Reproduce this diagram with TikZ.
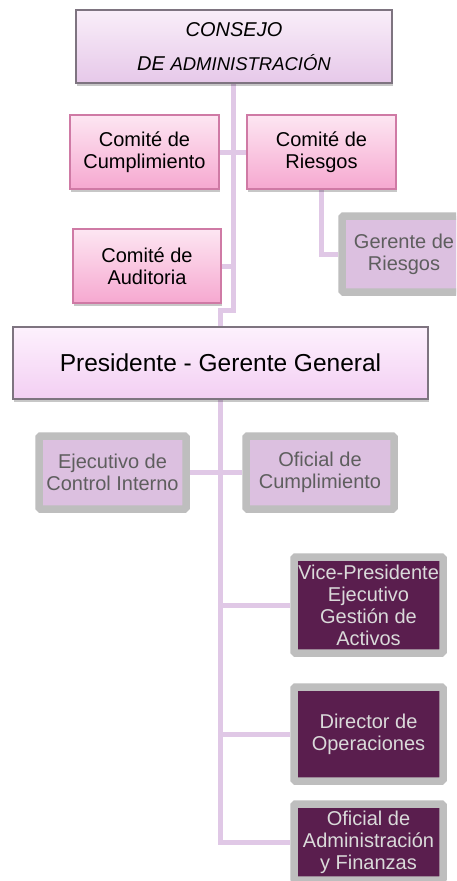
\documentclass[tikz,border=0pt]{standalone}
\usepackage{fontspec}
\setmainfont{Liberation Sans}
\usetikzlibrary{shadows}
\pgfdeclarelayer{background}
\pgfsetlayers{background,main}
\definecolor{link}{HTML}{E0C8E6}
\definecolor{boardTop}{HTML}{F9EEF9}
\definecolor{boardBot}{HTML}{E6C8E9}
\definecolor{presTop}{HTML}{FDF1FD}
\definecolor{presBot}{HTML}{F3CFF3}
\definecolor{boardLine}{HTML}{7E7480}
\definecolor{pinkTop}{HTML}{FDE6F2}
\definecolor{pinkBot}{HTML}{F6A8D0}
\definecolor{pinkLine}{HTML}{CF7AA5}
\definecolor{frameG}{HTML}{BEBEBE}
\definecolor{lilacFill}{HTML}{DCC0E0}
\definecolor{greyText}{HTML}{5E5E5E}
\definecolor{darkFill}{HTML}{5A1E4E}
\definecolor{darkText}{HTML}{DADADA}
\begin{document}
\begin{tikzpicture}[x=1pt,y=-1pt,
  box/.style={rectangle, inner sep=0pt, align=center,
    font=\fontsize{20}{22}\selectfont,
    drop shadow={shadow xshift=0.5pt, shadow yshift=-2.5pt, fill=black, opacity=0.22}},
  board/.style={box, draw=boardLine, line width=1.2pt, top color=boardTop, bottom color=boardBot},
  presbox/.style={box, draw=boardLine, line width=1.2pt, top color=presTop, bottom color=presBot},
  pinkbox/.style={box, draw=pinkLine, line width=1.2pt, top color=pinkTop, bottom color=pinkBot},
  lframe/.style={box, draw=frameG, line width=7.5pt, rounded corners=1.5pt, fill=lilacFill, text=greyText},
  dframe/.style={box, draw=frameG, line width=7.5pt, rounded corners=1.5pt, fill=darkFill, text=darkText},
  conn/.style={draw=link, line width=5pt}]
\useasboundingbox (0,0) rectangle (456,881);
\clip (0,0) rectangle (456,881);
\begin{pgfonlayer}{background}
\fill[white] (0,0) rectangle (456,881);
\end{pgfonlayer}

\path
  node[board, minimum width=316pt, minimum height=73pt, font=\itshape\fontsize{20}{34}\selectfont] (consejo) at (234,46.5)
    {CONSEJO\\DE {\fontsize{18.5}{34}\selectfont ADMINISTRACIÓN}}
  node[pinkbox, minimum width=149pt, minimum height=74pt] (cumpl) at (144.5,152) {Comité de\\Cumplimiento}
  node[pinkbox, minimum width=149pt, minimum height=74pt] (riesgos) at (321.5,152) {Comité de\\Riesgos}
  node[pinkbox, minimum width=148pt, minimum height=74pt] (auditoria) at (147,266) {Comité de\\Auditoria}
  node[lframe, minimum width=124pt, minimum height=76pt] (gerente) at (404,254) {Gerente de\\Riesgos}
  node[presbox, minimum width=415pt, minimum height=72pt, font=\fontsize{24.5}{28}\selectfont] (presidente) at (220.5,363) {Presidente - Gerente General}
  node[lframe, minimum width=147pt, minimum height=73pt] (ejecutivo) at (112.5,472.5) {Ejecutivo de\\Control Interno}
  node[lframe, minimum width=148pt, minimum height=73pt] (oficialc) at (320,472.5) {Oficial de\\Cumplimiento}
  node[dframe, minimum width=149pt, minimum height=96pt] (vp) at (368.5,605) {Vice-Presidente\\Ejecutivo\\Gestión de\\Activos}
  node[dframe, minimum width=149pt, minimum height=94pt] (director) at (368.5,734) {Director de\\Operaciones}
  node[dframe, minimum width=149pt, minimum height=76pt] (oficiala) at (368.5,842) {Oficial de\\Administración\\y Finanzas};

\coordinate (jog) at (233,310);
\begin{pgfonlayer}{background}
  \draw[conn] (consejo.south -| jog) -- (jog) -- (presidente.north |- jog) -- (presidente.north);
  \draw[conn] (cumpl.east) -- (riesgos.west);
  \draw[conn] (auditoria.east) -- (auditoria.east -| jog);
  \draw[conn] (riesgos.south) |- (gerente.west);
  \draw[conn] (presidente.south) |- (oficiala.west);
  \draw[conn] (presidente.south |- vp.west) -- (vp.west);
  \draw[conn] (presidente.south |- director.west) -- (director.west);
  \draw[conn] (ejecutivo.east) -- (oficialc.west);
\end{pgfonlayer}
\end{tikzpicture}
\end{document}
